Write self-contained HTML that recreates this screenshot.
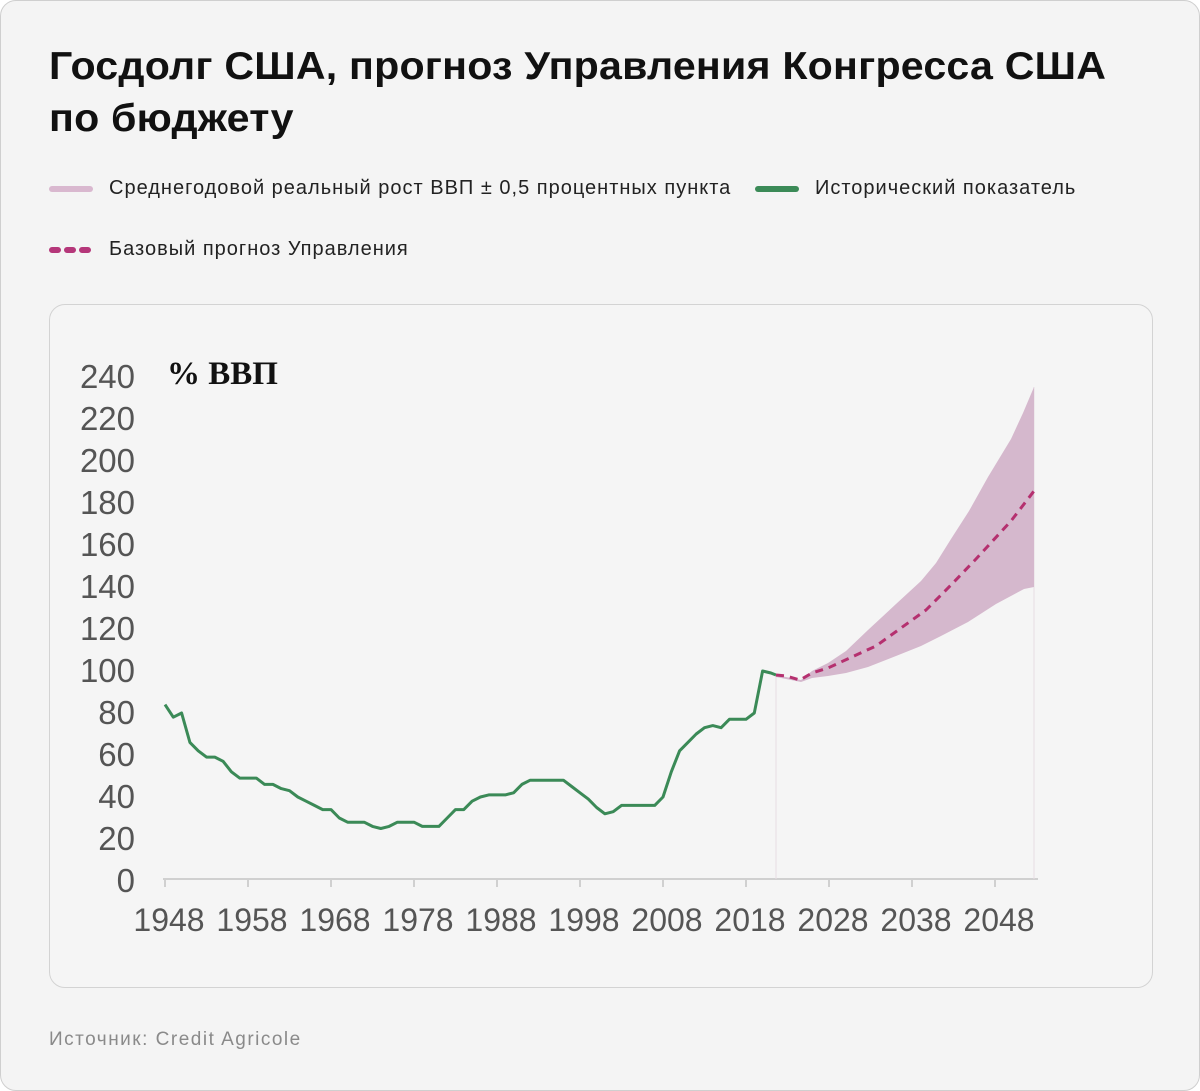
<!DOCTYPE html>
<html><head><meta charset="utf-8"><style>
html,body{margin:0;padding:0;background:#fff;}
.page{position:absolute;left:0;top:0;width:1198px;height:1089px;border:1px solid #cfcfcf;border-radius:16px;background:#f4f4f4;overflow:hidden;font-family:"Liberation Sans",sans-serif;}
h1{position:absolute;left:48px;top:40px;margin:0;font-size:39px;line-height:52px;font-weight:bold;color:#111;letter-spacing:0.2px;transform:scaleX(1.055);transform-origin:left;white-space:nowrap;}
.lg{position:absolute;font-size:20px;color:#222;letter-spacing:1px;}
.sw{position:absolute;height:6px;border-radius:3px;}
.panel{position:absolute;left:48px;top:303px;width:1102px;height:682px;border:1px solid #d3d3d3;border-radius:16px;background:#f5f5f5;}
.src{position:absolute;left:48px;top:1028px;font-size:19px;color:#8a8a8a;letter-spacing:1.5px;}
</style></head><body>
<div class="page">
<h1>Госдолг США, прогноз Управления Конгресса США<br>по бюджету</h1>
<div class="sw" style="left:48px;top:185px;width:44px;background:#d9b8cf"></div>
<div class="lg" style="left:108px;top:176px">Среднегодовой реальный рост ВВП ± 0,5 процентных пункта</div>
<div class="sw" style="left:754px;top:185px;width:44px;background:#3b8a57"></div>
<div class="lg" style="left:814px;top:176px">Исторический показатель</div>
<svg style="position:absolute;left:48px;top:245px" width="46" height="8"><line x1="3" y1="4" x2="44" y2="4" stroke="#b5377a" stroke-width="6" stroke-linecap="round" stroke-dasharray="6 9"/></svg>
<div class="lg" style="left:108px;top:237px">Базовый прогноз Управления</div>
<div class="panel"></div>
<svg style="position:absolute;left:0;top:0" width="1200" height="1000">
<g font-family="Liberation Sans, sans-serif" font-size="33" fill="#555" text-anchor="end">
<text x="134" y="891">0</text><text x="134" y="849">20</text><text x="134" y="807">40</text><text x="134" y="765">60</text><text x="134" y="723">80</text><text x="134" y="681">100</text><text x="134" y="639">120</text><text x="134" y="597">140</text><text x="134" y="555">160</text><text x="134" y="513">180</text><text x="134" y="471">200</text><text x="134" y="429">220</text><text x="134" y="387">240</text>
</g>
<text x="166" y="383" font-family="Liberation Serif, serif" font-weight="bold" font-size="33" fill="#111">% ВВП</text>
<line x1="162" y1="878" x2="1037" y2="878" stroke="#d0d0d0" stroke-width="2"/>
<g stroke="#d0d0d0" stroke-width="2">
<line x1="164" y1="878" x2="164" y2="886"/><line x1="247" y1="878" x2="247" y2="886"/><line x1="330" y1="878" x2="330" y2="886"/><line x1="413" y1="878" x2="413" y2="886"/><line x1="496" y1="878" x2="496" y2="886"/><line x1="579" y1="878" x2="579" y2="886"/><line x1="662" y1="878" x2="662" y2="886"/><line x1="745" y1="878" x2="745" y2="886"/><line x1="828" y1="878" x2="828" y2="886"/><line x1="911" y1="878" x2="911" y2="886"/><line x1="994" y1="878" x2="994" y2="886"/>
</g>
<g font-family="Liberation Sans, sans-serif" font-size="32" fill="#555" text-anchor="middle">
<text x="168" y="930">1948</text><text x="251" y="930">1958</text><text x="334" y="930">1968</text><text x="417" y="930">1978</text><text x="500" y="930">1988</text><text x="583" y="930">1998</text><text x="666" y="930">2008</text><text x="749" y="930">2018</text><text x="832" y="930">2028</text><text x="915" y="930">2038</text><text x="998" y="930">2048</text>
</g>
<line x1="775" y1="675" x2="775" y2="878" stroke="#e8dde4" stroke-width="1"/>
<line x1="1033" y1="386" x2="1033" y2="878" stroke="#e8dde4" stroke-width="1"/>
<polygon fill="#d5b8cd" points="775,674 790,677 800,679 811,670 827,662 845,650 867,629 895,603 920,580 935,562 950,538 968,510 987,476 1010,438 1022,412 1033,386 1033,586 1023,588 995,603 967,621 940,635 920,645 895,655 867,666 845,672 827,675 811,677 800,681 790,679 775,676"/>
<polyline fill="none" stroke="#3b8a57" stroke-width="3" stroke-linejoin="round" points="164,703.6 172.3,716.2 180.6,712 188.9,741.4 197.2,749.8 205.5,756.1 213.8,756.1 222.1,760.3 230.4,770.8 238.7,777.1 247,777.1 255.3,777.1 263.6,783.4 271.9,783.4 280.2,787.6 288.5,789.7 296.8,796 305.1,800.2 313.4,804.4 321.7,808.6 330,808.6 338.3,817 346.6,821.2 354.9,821.2 363.2,821.2 371.5,825.4 379.8,827.5 388.1,825.4 396.4,821.2 404.7,821.2 413,821.2 421.3,825.4 429.6,825.4 437.9,825.4 446.2,817 454.5,808.6 462.8,808.6 471.1,800.2 479.4,796 487.7,793.9 496,793.9 504.3,793.9 512.6,791.8 520.9,783.4 529.2,779.2 562.4,779.2 570.7,785.5 579,791.8 587.3,798.1 595.6,806.5 603.9,812.8 612.2,810.7 620.5,804.4 653.7,804.4 662,796 670.3,770.8 678.6,749.8 686.9,741.4 695.2,733 703.5,726.7 711.8,724.6 720.1,726.7 728.4,718.3 736.7,718.3 745,718.3 753.3,712 761.6,670 769.9,672 775,674"/>
<polyline fill="none" stroke="#b5306f" stroke-width="3" stroke-dasharray="8 6" stroke-linejoin="round" points="775,674 785,675 799,679 811,672 827,667 853,655 875,645 900,627 925,609 950,584 975,558 1010,520 1033,490"/>
</svg>
<div class="src">Источник: Credit Agricole</div>
</div>
</body></html>
